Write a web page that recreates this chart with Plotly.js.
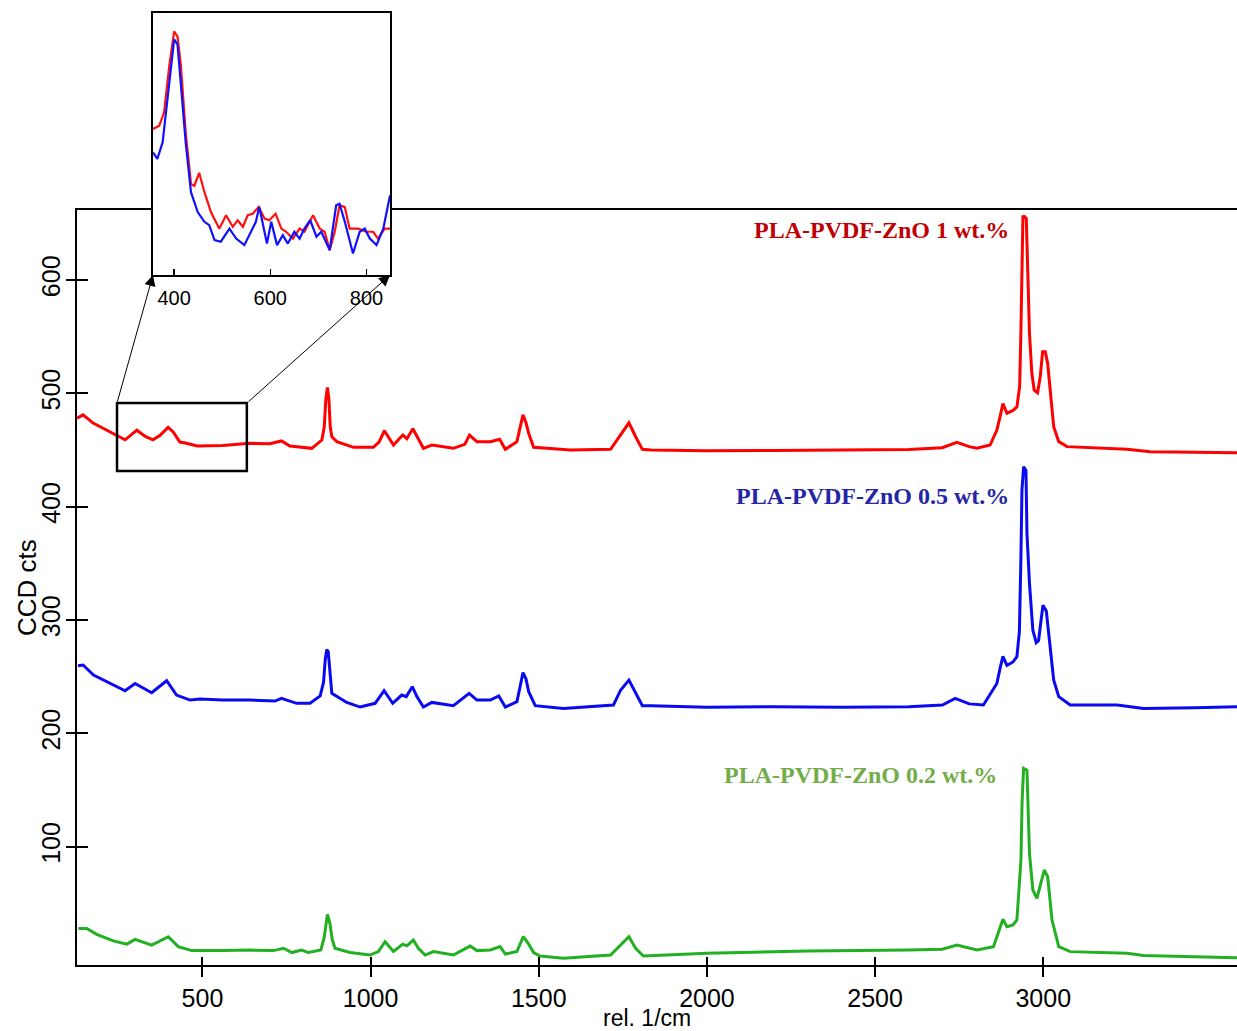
<!DOCTYPE html>
<html>
<head>
<meta charset="utf-8">
<script src="https://cdn.plot.ly/plotly-3.0.1.min.js"></script>
<style>html,body{margin:0;padding:0;background:#fff;overflow:hidden;}</style>
</head>
<body>
<div id="chart" style="width:1237px;height:1031px;"></div>
<script>
// Main spectra (rel. 1/cm vs CCD cts)
const redX = [127,145,175,215,246,270,305,330,353,374,398,413,433,453,484,560,641,700,735,760,825,855,862,867,871.5,876,880,884.7,899.6,949,1008,1025,1041,1055,1068,1095.7,1108,1125.6,1137.6,1157,1182,1246,1280,1294,1316,1356,1383.5,1400.6,1435,1445,1453,1462,1470,1484.6,1594,1713.5,1743.6,1768,1788,1808,1834,2000,2200,2400,2600,2700,2743,2780,2802.6,2842,2862,2872,2880,2892,2910,2921.6,2929.7,2933.6,2936.6,2939.5,2944,2949.5,2953.5,2959,2966,2973,2983,2991,2998,3006,3013,3021,3031,3046,3070.6,3249,3318,3450,3576];
const redY = [478,481,473.8,467.6,463,459,467.5,462,459,463,470,466,457,456,453.5,454,455.9,455.5,458,453.5,451.5,458.8,470,495,505.3,495,470,461.7,457.4,452.4,452.4,457,467,460,454.4,463.2,460,468.7,461.7,451.5,454.4,451.5,455,463.2,457.4,457.4,459.5,450.6,457.4,470,481,474,464.7,452.4,450,450.6,463,474,461.7,450.6,450,449.4,449.6,450,450.5,452,456.7,453,451.5,454.4,467.6,480,491,482.4,485,488,505.9,555.9,614.7,655.9,656,654.4,611.8,553,517.7,502.9,500.6,514.7,536.8,536.8,526.5,500,470.6,457.4,453,450.6,448.5,448,447.7];

const blueX = [130,145,176,225,270,299.5,349,393.6,423,463,493,560,641,715.5,735,780,820,850,860,865,869.7,874,878,884.7,929,968.8,1013.5,1040,1065.7,1092.5,1106,1124,1137.6,1157,1182,1246,1293,1316,1356,1381,1400.6,1435,1445,1453,1462,1470,1489.6,1573,1722,1743.6,1768,1788,1808,1834,2000,2200,2400,2600,2700,2738,2780,2822,2862,2872,2880,2892,2910,2921.6,2929,2933.6,2936.6,2941.5,2948.5,2951.5,2959,2969,2979,2986,2999,3009,3019,3031,3046,3080,3220,3298,3450,3576];
const blueY = [259.7,260.3,251.5,244,237.6,244,235.8,246.4,233.8,229.4,230.3,229.5,229.4,228.5,230.9,226.5,226.5,233,245,265,274,272,255,235.3,227.3,223.2,226.5,237.6,226.5,233.8,232.4,241.2,232.4,223.2,227.3,224.4,235.3,229.4,229.4,233,223.2,228,242,253.6,248,236.8,224.4,222,225,238.3,247,235.3,224.4,224.4,223,223.5,223,223.5,225,230.9,226,225,244,258,268,260,263,267.6,290,355.9,414.7,435.3,432,376.5,332.4,291,280,282,313,308,279,247,232.4,225,225,222,222.5,223.5];

const greenX = [131,156,185.6,235,275,299.5,349,398.5,428,468,560,641,711,741,766,795,815,852,862,867,871.5,879,886,894,939,998,1023,1043,1068,1095.7,1108,1127,1142,1162,1187,1246,1296,1316,1356,1385,1400.6,1435,1454,1470,1484.6,1504,1573,1713.5,1743.6,1768,1788,1811,2000,2300,2600,2700,2743,2803,2852,2866.6,2880,2892,2910,2921.6,2933.6,2937,2941.5,2951.5,2955,2959,2969,2981,2993,3003,3013,3026,3046,3080,3249,3298,3450,3576];
const greenY = [27.8,27.8,22.6,16.9,14,18.2,13.2,20.5,11.8,8.3,8.5,8.8,8.3,10.4,6.6,8.8,6.6,8.8,20,33,40.3,32.4,18,10.4,6.6,4.4,7.5,16.2,7.5,14,12.5,17.6,10.4,4.4,7.5,4.4,12.3,8.3,8.8,11.8,5.3,7.5,20.7,14,6.6,3.5,1.5,4.4,13.2,20.5,10.4,3.5,6,8,8.8,9.5,13.2,8.8,11.8,23.5,35.9,29.4,31,35.3,88.2,140,169.1,167.6,135,94,61.8,54.4,68,79.4,73.5,35.3,11.8,7.4,5.9,3.9,2.8,2];

// Inset (zoom of 356-849 rel. 1/cm, arbitrary scale 0-100)
const insetRedX = [356,369,379,390,400,407,414,424,435,442,452,463,476.5,494,508,522,532,543,553,563.5,576,588,598,611,623,633,647,661,671,689,703,713,723.5,734,744,755,765,783,800,814,824,838,849];
const insetRedY = [55.7,57,62,80,93,91,80,54.4,34.8,34,39,31.6,24,17.7,22.8,18.4,20.9,18.4,22.8,23.4,26,21.5,20.9,23.4,17.7,16.5,13.9,17.7,16.5,22.8,17.7,16.5,9.5,16.5,26.6,25.9,17.7,17.7,16.5,16.5,13.9,17.7,17.7];
const insetBlueX = [356,365,376,390,400,407,414,424,435,449,463,473,484,497,515,529,546,560,570,577,584,593,602,614,626,636.5,650,661,671,683,696,706,723.5,737,744,755,772,786,796.5,807,821,835,849];
const insetBlueY = [46.8,44.3,50.6,73.4,89.9,88,73.4,50.6,31.6,24,20.3,19,13.3,12.7,17.7,13.9,11.4,16.5,20.3,26,20.3,12,20.3,11.4,15.2,12,16.5,13.9,17.7,20.9,14.6,16.5,9.5,26.6,27.2,20.3,8.2,16.5,17.7,13.9,11.4,17.7,30.4];

const xTicks = [500,1000,1500,2000,2500,3000];
const yTicks = [100,200,300,400,500,600];
const insetTicks = [400,600,800];
const seriesLabels = ["PLA-PVDF-ZnO 1 wt.%","PLA-PVDF-ZnO 0.5 wt.%","PLA-PVDF-ZnO 0.2 wt.%"];
const zoomBoxX = [246, 632];
const zoomBoxY = [431.5, 491.5];

const xRange = [127, 3576];
const yRange = [-4.4, 661.8];
const insetXRange = [356, 849];
const insetYRange = [0, 100];

const sans = "Liberation Sans, Arial, sans-serif";
const serif = "Liberation Serif, Times New Roman, serif";

const traces = [
  {x: greenX, y: greenY, type: 'scatter', mode: 'lines', line: {color: '#22b022', width: 3}, xaxis: 'x3', yaxis: 'y3'},
  {x: blueX, y: blueY, type: 'scatter', mode: 'lines', line: {color: '#0a0af0', width: 3}, xaxis: 'x', yaxis: 'y'},
  {x: redX, y: redY, type: 'scatter', mode: 'lines', line: {color: '#ff0000', width: 3}, xaxis: 'x', yaxis: 'y'},
  {x: insetRedX, y: insetRedY, type: 'scatter', mode: 'lines', line: {color: '#ff1010', width: 2.2}, xaxis: 'x2', yaxis: 'y2'},
  {x: insetBlueX, y: insetBlueY, type: 'scatter', mode: 'lines', line: {color: '#1010ff', width: 2.2}, xaxis: 'x2', yaxis: 'y2'}
];

const mainYDomain = [0, 0.79307];
const layout = {
  width: 1237, height: 1031,
  margin: {l: 77, r: 0, t: 13, b: 66},
  paper_bgcolor: '#ffffff', plot_bgcolor: '#ffffff',
  showlegend: false,
  hovermode: false,
  xaxis: {
    domain: [0, 1], anchor: 'y', range: xRange,
    tickmode: 'array', tickvals: xTicks,
    ticks: 'outside', ticklen: 10, tickwidth: 2, tickcolor: '#000',
    showline: true, linewidth: 2, linecolor: '#000', mirror: true,
    showgrid: false, zeroline: false,
    tickfont: {family: sans, size: 25, color: '#000'}
  },
  yaxis: {
    domain: mainYDomain, anchor: 'x', range: yRange,
    tickmode: 'array', tickvals: yTicks, tickangle: -90,
    ticks: 'outside', ticklen: 9, tickwidth: 2, tickcolor: '#000',
    showline: true, linewidth: 2, linecolor: '#000',
    showgrid: false, zeroline: false, ticklabelstandoff: -4,
    tickfont: {family: sans, size: 25, color: '#000'}
  },
  xaxis3: {
    overlaying: 'x', anchor: 'y3', range: xRange,
    tickmode: 'array', tickvals: xTicks,
    ticks: 'inside', ticklen: 8, tickwidth: 2, tickcolor: '#000',
    showticklabels: false, showline: false, showgrid: false, zeroline: false
  },
  yaxis3: {
    overlaying: 'y', anchor: 'x3', domain: mainYDomain, range: yRange,
    tickmode: 'array', tickvals: yTicks,
    ticks: 'inside', ticklen: 11, tickwidth: 2, tickcolor: '#000',
    showticklabels: false, showline: false, showgrid: false, zeroline: false
  },
  xaxis2: {
    domain: [0.06552, 0.26983], anchor: 'y2', range: insetXRange,
    tickmode: 'array', tickvals: insetTicks,
    ticks: 'inside', ticklen: 6, tickwidth: 1.5, tickcolor: '#000',
    showline: true, linewidth: 2, linecolor: '#000', mirror: true,
    showgrid: false, zeroline: false, ticklabelstandoff: 4,
    tickfont: {family: sans, size: 20, color: '#000'}
  },
  yaxis2: {
    domain: [0.72479, 1], anchor: 'x2', range: insetYRange,
    showticklabels: false, ticks: '',
    showline: true, linewidth: 2, linecolor: '#000', mirror: true,
    showgrid: false, zeroline: false
  },
  shapes: [
    {type: 'rect', xref: 'x', yref: 'y', x0: zoomBoxX[0], x1: zoomBoxX[1], y0: zoomBoxY[0], y1: zoomBoxY[1],
     line: {color: '#000', width: 2.5}, fillcolor: 'rgba(0,0,0,0)'}
  ],
  annotations: [
    {xref: 'x', yref: 'y', x: 2904, y: 644.5, xanchor: 'right', yanchor: 'middle', showarrow: false,
     text: '<b>' + seriesLabels[0] + '</b>', font: {family: serif, size: 24, color: '#c00000'}},
    {xref: 'x', yref: 'y', x: 2904, y: 409.4, xanchor: 'right', yanchor: 'middle', showarrow: false,
     text: '<b>' + seriesLabels[1] + '</b>', font: {family: serif, size: 24, color: '#2525a8'}},
    {xref: 'x', yref: 'y', x: 2869, y: 163.2, xanchor: 'right', yanchor: 'middle', showarrow: false,
     text: '<b>' + seriesLabels[2] + '</b>', font: {family: serif, size: 24, color: '#72ad4a'}},
    {xref: 'paper', yref: 'paper', x: -0.0431, y: 0.396, xanchor: 'center', yanchor: 'middle', showarrow: false,
     textangle: -90, text: 'CCD cts', font: {family: sans, size: 26, color: '#000'}},
    {xref: 'paper', yref: 'paper', x: 0.4914, y: -0.0557, xanchor: 'center', yanchor: 'middle', showarrow: false,
     text: 'rel. 1/cm', font: {family: sans, size: 23, color: '#000'}},
    {xref: 'paper', yref: 'paper', x: 0.06552, y: 0.72479, ax: -36, ay: 128, axref: 'pixel', ayref: 'pixel',
     showarrow: true, arrowhead: 2, arrowsize: 2.2, arrowwidth: 1, arrowcolor: '#000', text: ''},
    {xref: 'paper', yref: 'paper', x: 0.26983, y: 0.72479, ax: -143, ay: 128, axref: 'pixel', ayref: 'pixel',
     showarrow: true, arrowhead: 2, arrowsize: 2.2, arrowwidth: 1, arrowcolor: '#000', text: ''}
  ]
};

Plotly.newPlot('chart', traces, layout, {staticPlot: true, displayModeBar: false});
</script>
</body>
</html>
